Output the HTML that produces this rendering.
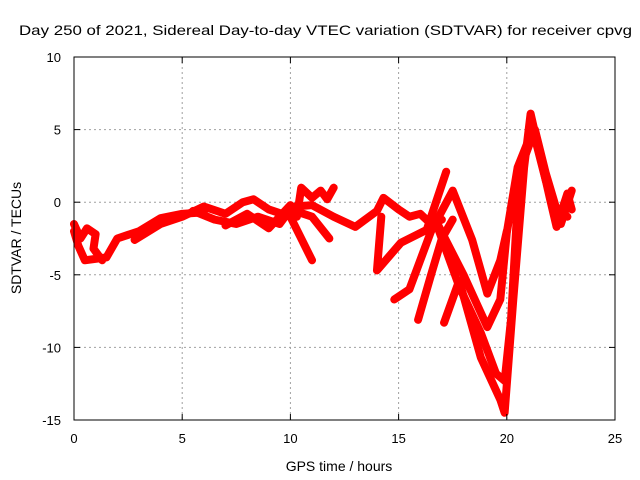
<!DOCTYPE html>
<html><head><meta charset="utf-8"><style>
body{margin:0;background:#fff}
svg{display:block;font-family:"Liberation Sans",sans-serif}
</style></head><body>
<svg id="chart" width="640" height="480" viewBox="0 0 640 480">
<rect width="640" height="480" fill="#fff"/>
<text x="19" y="35" font-size="14" textLength="613" lengthAdjust="spacingAndGlyphs">Day 250 of 2021, Sidereal Day-to-day VTEC variation (SDTVAR) for receiver cpvg</text>
<g id="grid"></g>
<g id="series"></g>
<rect x="74" y="57" width="541" height="363" fill="none" stroke="#000" stroke-width="1"/>
<g id="ticks"></g>
<text x="339" y="471" font-size="14" text-anchor="middle">GPS time / hours</text>
<text transform="translate(21,238) rotate(-90)" font-size="14" text-anchor="middle">SDTVAR / TECUs</text>
</svg>
<script>
const xTicks=[0,5,10,15,20,25];
const yTicks=[10,5,0,-5,-10,-15];
const track1=[[0,-2],[0.2,-3],[0.5,-4],[1.5,-3.8],[2,-2.5],[3,-2],[4,-1.1],[5,-0.8],[6,-0.7]];
const track2=[[0,-1.5],[0.3,-2.5],[0.6,-1.8],[1,-2.2],[0.9,-3.2],[1.3,-4]];
const track3=[[2.8,-2.6],[4,-1.5],[5,-1],[6,-0.3],[7,-0.8],[7.8,0],[8.3,0.2],[9,-0.5],[10,-1],[10.5,-2.5],[11,-4]];
const track4=[[5.5,-0.6],[6.5,-1.2],[7.5,-1.5],[8.5,-1],[9.5,-1.5],[10,-0.5],[11,-1],[11.8,-2.5]];
const track5=[[7,-1.6],[8,-0.8],[9,-1.8],[10,-0.2],[10.3,-1],[10.5,1],[11,0.3],[11.4,0.8],[11.7,0.2],[12,1]];
const track6=[[10.2,-0.3],[11,-0.2],[12,-1],[13,-1.7],[14,-0.6],[14.3,0.3],[15,-0.5],[15.5,-1],[16,-0.8],[16.5,-1.5],[17,-1.2]];
const track7=[[14.2,-1],[14,-4.7],[15.1,-2.8],[16.3,-1.9],[17.2,2.1]];
const track8=[[14.8,-6.7],[15.5,-6],[16.5,-2],[17.5,0.8],[18.4,-2.6],[19.1,-6.3],[19.7,-4],[20,-2]];
const track9=[[15.9,-8.1],[16.5,-5],[17,-2.5],[17.5,-1.2]];
const track10=[[17.1,-8.3],[17.8,-5.4],[18.8,-10.7],[19.7,-13.6],[19.9,-14.5],[20.3,-6.7],[20.8,2.4],[21.1,6.1],[22,0.2],[22.3,-1.7],[22.8,0.6],[23,-0.5]];
const track11=[[16.8,-1.7],[17.8,-5.8],[18.8,-9],[19.5,-11.8],[19.9,-12.3],[20.2,-8],[20.5,0],[20.8,3],[21.3,5],[21.8,2],[22.3,-0.5],[22.8,-1]];
const track12=[[16.8,-1.5],[18,-5],[19.1,-8.6],[19.7,-6.7],[20,-2.1],[20.5,2.4],[21.2,5],[21.8,1.5],[22.5,-1.5],[23,0.8]];
const tracks=[track1,track2,track3,track4,track5,track6,track7,track8,track9,track10,track11,track12];
const X0=74,X1=615,Y0=420,Y1=57;
const xs=v=>X0+(v-0)/25*(X1-X0);
const ys=v=>Y0-(v+15)/25*(Y0-Y1);
const NS="http://www.w3.org/2000/svg";
const grid=document.getElementById('grid'),ticks=document.getElementById('ticks'),ser=document.getElementById('series');
function mk(t,a,p){const e=document.createElementNS(NS,t);for(const k in a)e.setAttribute(k,a[k]);p.appendChild(e);return e;}
xTicks.forEach(v=>{const x=xs(v);
 if(v>0&&v<25){const g=mk('line',{x1:x,x2:x,y1:Y1,y2:Y0,stroke:'#a0a0a0','stroke-dasharray':'2,3'},grid);
 
 }
 mk('line',{x1:x,x2:x,y1:Y0,y2:Y0-6,stroke:'#000'},ticks);
 mk('line',{x1:x,x2:x,y1:Y1,y2:Y1+6,stroke:'#000'},ticks);
 const t=mk('text',{x:x,y:443,'font-size':13,'text-anchor':'middle'},ticks);t.textContent=v;
 
 
});
yTicks.forEach(v=>{const y=ys(v);
 if(v>-15&&v<10){const g=mk('line',{x1:X0,x2:X1,y1:y,y2:y,stroke:'#a0a0a0','stroke-dasharray':'2,3'},grid);
 
 }
 mk('line',{x1:X0,x2:X0+6,y1:y,y2:y,stroke:'#000'},ticks);
 mk('line',{x1:X1,x2:X1-6,y1:y,y2:y,stroke:'#000'},ticks);
 const t=mk('text',{x:61,y:y+5,'font-size':13,'text-anchor':'end'},ticks);t.textContent=v;
 
 
});
tracks.forEach((tr,i)=>{
 const p=mk('polyline',{points:tr.map(d=>xs(d[0])+','+ys(d[1])).join(' '),fill:'none',stroke:'#ff0000','stroke-width':8,'stroke-linejoin':'round','stroke-linecap':'round'},ser);
 
 
});
</script>
</body></html>
